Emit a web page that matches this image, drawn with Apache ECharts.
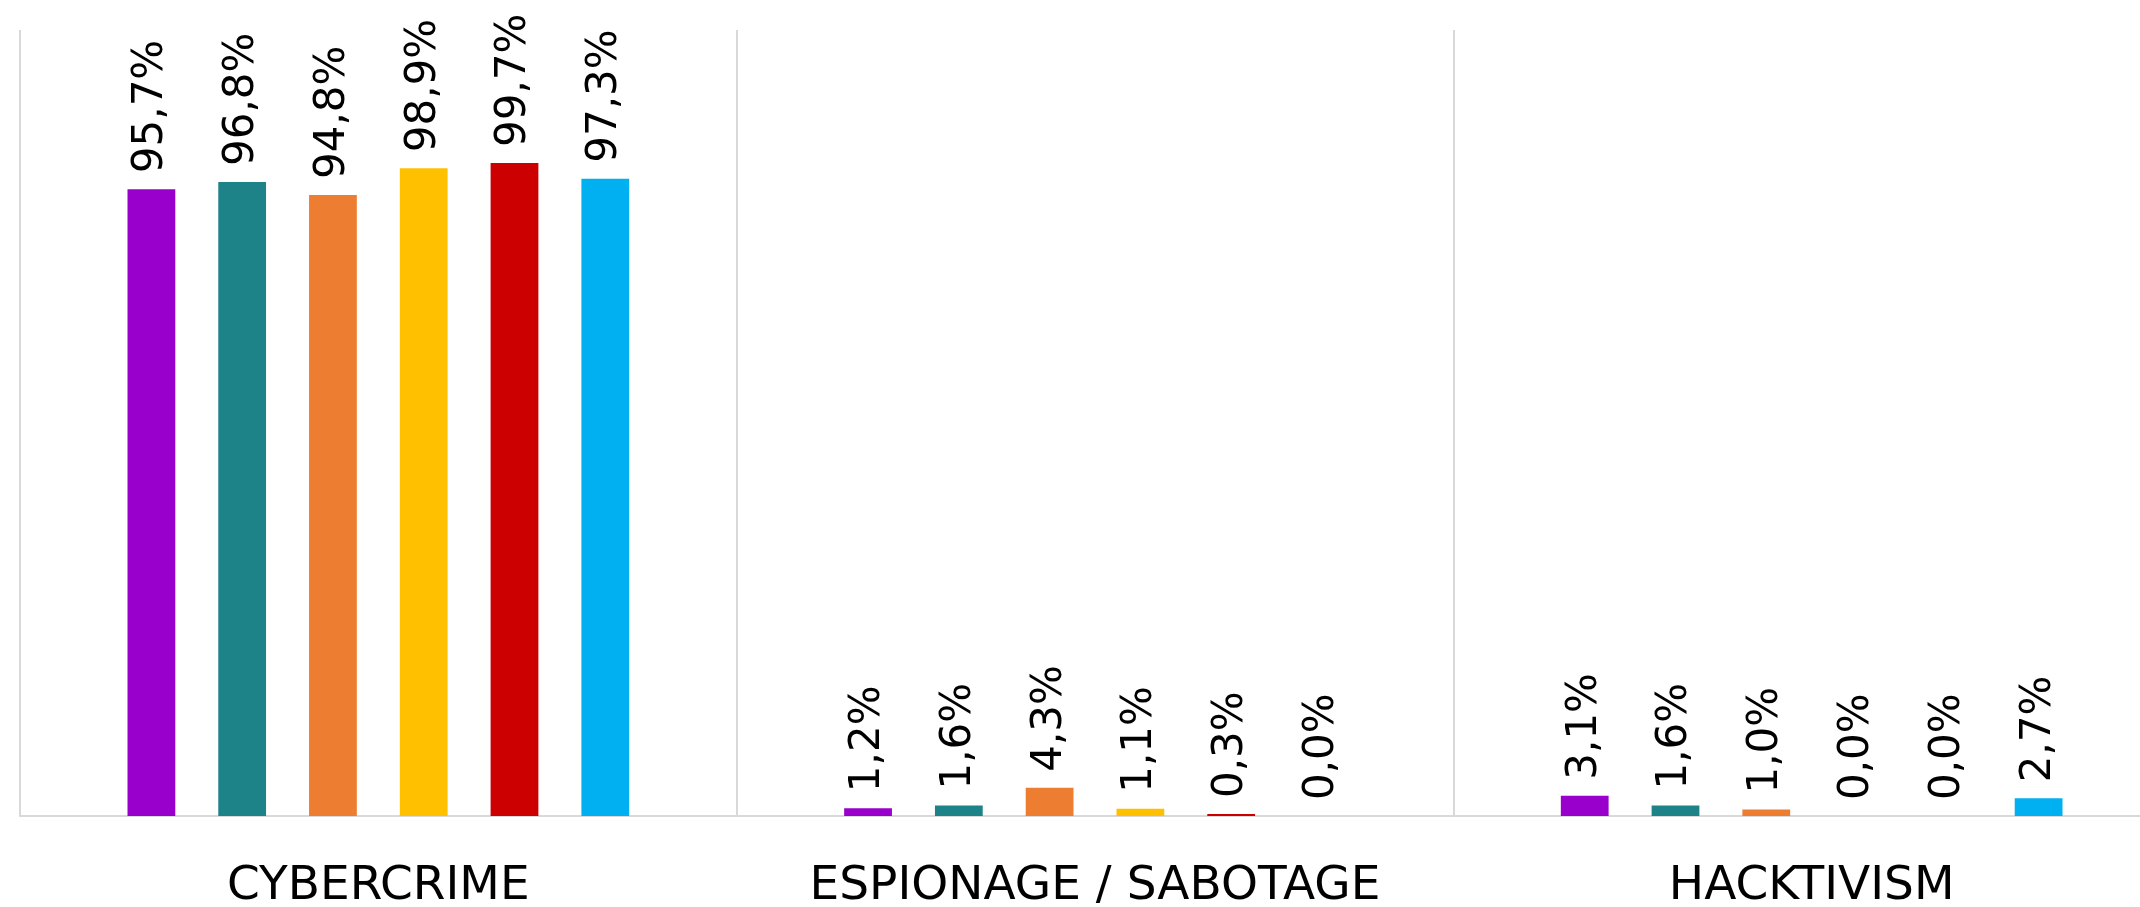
<!DOCTYPE html>
<html>
<head>
<meta charset="utf-8">
<script src="https://cdn.jsdelivr.net/npm/echarts@6/dist/echarts.min.js"></script>
<style>
html,body{margin:0;padding:0;background:#fff;}
#chart{width:2140px;height:907px;}
</style>
</head>
<body>
<div id="chart"></div>
<script>
const categories = ['CYBERCRIME', 'ESPIONAGE / SABOTAGE', 'HACKTIVISM'];
const seriesNames = ['Series 1', 'Series 2', 'Series 3', 'Series 4', 'Series 5', 'Series 6'];
const seriesColors = ['#9900CC', '#1D8389', '#ED7D31', '#FFC000', '#CC0000', '#00B0F0'];
const series1 = [95.7, 1.2, 3.1];
const series2 = [96.8, 1.6, 1.6];
const series3 = [94.8, 4.3, 1.0];
const series4 = [98.9, 1.1, 0.0];
const series5 = [99.7, 0.3, 0.0];
const series6 = [97.3, 0.0, 2.7];
const seriesValues = [series1, series2, series3, series4, series5, series6];

const chart = echarts.init(document.getElementById('chart'), null, {renderer: 'canvas'});
const option = {
  animation: false,
  backgroundColor: '#ffffff',
  grid: {left: 20, top: 30, width: 2150, bottom: 91, containLabel: false, outerBoundsMode: 'none'},
  xAxis: {
    type: 'category',
    data: categories,
    axisLine: {show: true, lineStyle: {color: '#D9D9D9', width: 2}},
    axisTick: {show: false},
    splitLine: {show: true, interval: 0, lineStyle: {color: '#D9D9D9', width: 2}},
    axisLabel: {
      interval: 0,
      margin: 47,
      color: '#000000',
      fontFamily: 'DejaVu Sans',
      fontSize: 47
    }
  },
  yAxis: {
    type: 'value',
    min: 0,
    max: 120,
    interval: 20,
    show: false,
    splitLine: {show: false}
  },
  series: seriesValues.map((vals, i) => ({
    name: seriesNames[i],
    type: 'bar',
    data: vals,
    barGap: '90%',
    barCategoryGap: '30%',
    itemStyle: {color: seriesColors[i]},
    label: {
      show: true,
      position: 'top',
      rotate: 90,
      align: 'left',
      verticalAlign: 'middle',
      distance: 16,
      color: '#000000',
      fontFamily: 'DejaVu Sans',
      fontSize: 42,
      formatter: p => p.value.toFixed(1).replace('.', ',') + '%'
    }
  }))
};
chart.setOption(option);
</script>
</body>
</html>
